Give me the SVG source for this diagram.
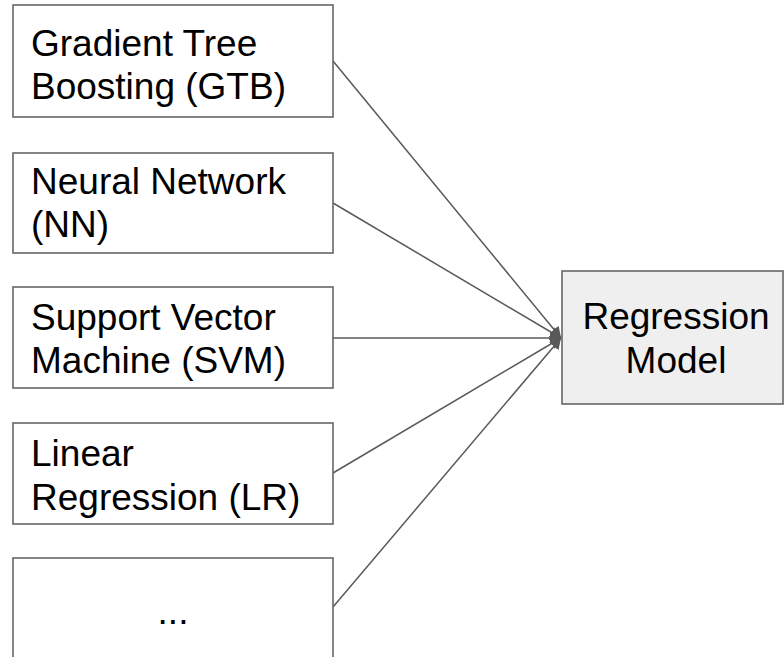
<svg xmlns="http://www.w3.org/2000/svg" width="784" height="657" viewBox="0 0 784 657">
<defs>
<style>
.box{fill:#ffffff;stroke:#666666;stroke-width:1.6}
.target{fill:#efefef;stroke:#666666;stroke-width:1.6}
.lbl{font-family:"Liberation Sans",Arial,sans-serif;font-size:37px;fill:#000000}
.conn{stroke:#595959;stroke-width:1.5;fill:none;marker-end:url(#arrow)}
</style>
<marker id="arrow" markerUnits="userSpaceOnUse" viewBox="0 0 11 12" refX="11" refY="6" markerWidth="11" markerHeight="12" orient="auto">
<path d="M0,0 L11,6 L0,12 z" fill="#595959"/>
</marker>
</defs>
<rect width="784" height="657" fill="#ffffff"/>
<g id="connectors">
<line class="conn" x1="333" y1="61" x2="561" y2="338"/>
<line class="conn" x1="333" y1="203" x2="561" y2="338"/>
<line class="conn" x1="333" y1="338" x2="561" y2="338"/>
<line class="conn" x1="333" y1="473" x2="561" y2="338"/>
<line class="conn" x1="333" y1="607" x2="561" y2="338"/>
</g>
<g id="gtb">
<rect class="box" x="13" y="5" width="320" height="112"/>
<text class="lbl" x="31" y="56">Gradient Tree</text>
<text class="lbl" x="31" y="99">Boosting (GTB)</text>
</g>
<g id="nn">
<rect class="box" x="13" y="153" width="320" height="100"/>
<text class="lbl" x="31" y="194">Neural Network</text>
<text class="lbl" x="31" y="237">(NN)</text>
</g>
<g id="svm">
<rect class="box" x="13" y="287" width="320" height="101"/>
<text class="lbl" x="31" y="330">Support Vector</text>
<text class="lbl" x="31" y="373">Machine (SVM)</text>
</g>
<g id="lr">
<rect class="box" x="13" y="423" width="320" height="101"/>
<text class="lbl" x="31" y="466">Linear</text>
<text class="lbl" x="31" y="510">Regression (LR)</text>
</g>
<g id="more">
<rect class="box" x="13" y="558" width="320" height="110"/>
<text class="lbl" x="173" y="624" text-anchor="middle">...</text>
</g>
<g id="regression">
<rect class="target" x="562" y="271" width="221" height="133"/>
<text class="lbl" x="676" y="329" text-anchor="middle">Regression</text>
<text class="lbl" x="676" y="373" text-anchor="middle">Model</text>
</g>
</svg>
